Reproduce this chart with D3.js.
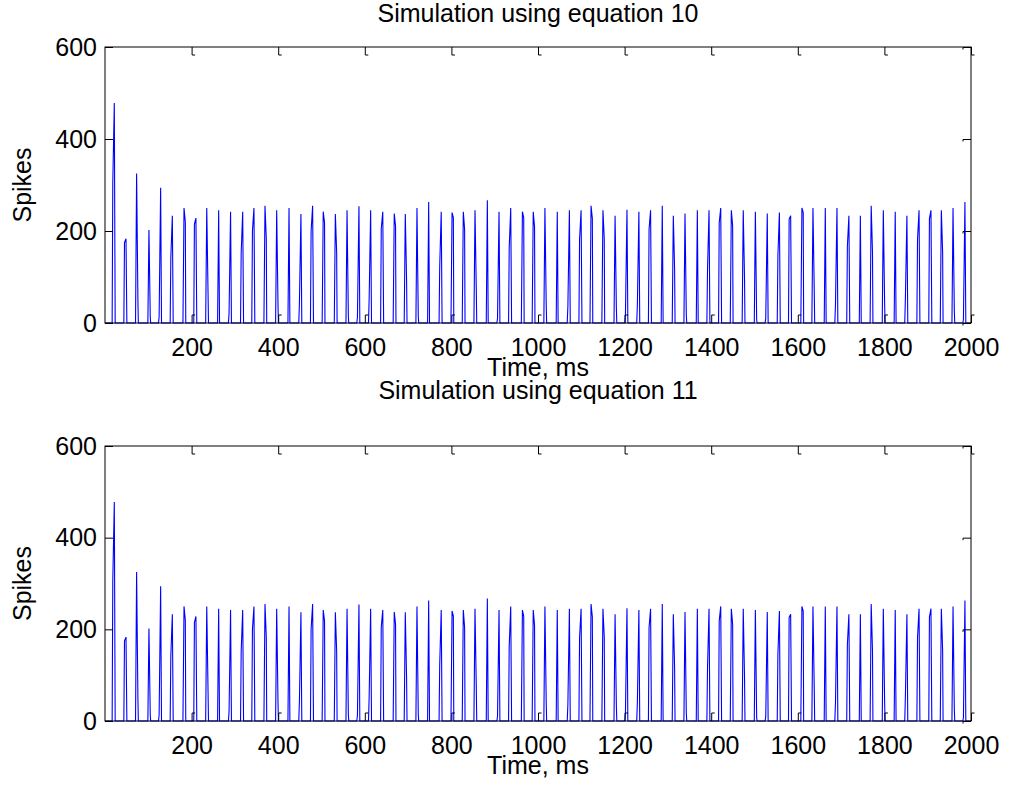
<!DOCTYPE html>
<html>
<head>
<meta charset="utf-8">
<script src="https://cdn.jsdelivr.net/npm/d3@7"></script>
<style>
  body { margin: 0; background: #fff; }
  svg text { font-family: "Liberation Sans", Arial, sans-serif; fill: #000; }
</style>
</head>
<body>
<div id="chart"></div>
<script>
// Spike train (both panels show the same trace)
var spike_times = [21.5, 48.5, 73, 101.5, 128.5, 155.5, 182.5, 210, 235, 262.5, 290, 318, 344, 369.5, 396.5,
    425, 452.5, 479.5, 504, 532, 559, 586.5, 613.5, 641.5, 668, 693.5, 720.5, 747.5, 776.5, 801.5, 827.5, 854.5, 883, 910, 937, 964,
    989, 1016, 1044.5, 1072.5, 1099.5, 1122.5, 1150, 1178, 1205.5, 1233, 1260, 1287, 1312.5, 1339.5, 1368, 1395, 1422, 1446.5, 1474, 1502, 1529.5, 1557.5,
    1583.5, 1609.5, 1635, 1663.5, 1690.5, 1718, 1744.5, 1769.5, 1797.5, 1825, 1852, 1880, 1907.5, 1931.5, 1958.5, 1986];

var spike_peaks = [478, 183, 325, 202, 294, 233, 250, 228, 250, 245, 242, 242, 250, 255, 245,
    250, 237, 255, 242, 237, 245, 254, 245, 242, 238, 237, 250, 263, 242, 240, 242, 245, 267, 242, 250, 242,
    242, 250, 242, 245, 245, 255, 245, 233, 246, 242, 245, 255, 233, 238, 245, 245, 250, 245, 245, 242, 238, 240,
    233, 250, 250, 250, 250, 233, 233, 255, 245, 242, 233, 245, 245, 245, 250, 263];

// value where the rising edge bends (0 = straight)
var rise_knees = [306, 175, 0, 0, 13, 141, 0, 215, 0, 0, 20, 152, 200, 0, 0,
    0, 43, 200, 0, 0, 0, 12, 50, 205, 0, 0, 0, 0, 123, 0, 0, 0, 0, 10, 163, 0,
    0, 0, 0, 36, 182, 0, 0, 0, 21, 39, 204, 0, 0, 0, 0, 116, 218, 0, 0, 0, 10, 145,
    226, 0, 0, 0, 39, 167, 0, 0, 0, 0, 54, 182, 227, 0, 0, 7];

// value where the falling edge bends (0 = straight)
var fall_knees = [0, 0, 50, 13, 0, 0, 220, 0, 64, 0, 0, 0, 0, 182, 42,
    0, 0, 0, 218, 153, 14, 0, 0, 0, 211, 94, 14, 0, 0, 229, 204, 72, 0, 0, 0, 229,
    209, 39, 0, 0, 0, 227, 183, 32, 0, 0, 0, 0, 116, 18, 0, 0, 0, 211, 94, 7, 0, 0,
    0, 240, 69, 0, 0, 0, 0, 153, 43, 0, 0, 0, 0, 153, 25, 0];

var titles  = [ 'Simulation using equation 10', 'Simulation using equation 11' ];
var x_ticks = [ 200, 400, 600, 800, 1000, 1200, 1400, 1600, 1800, 2000 ];
var y_ticks = [ 0, 200, 400, 600 ];

// Build the line points from the spikes
var trace = [ [0, 0] ];
spike_times.forEach(function(t, i){
    if (rise_knees[i] > 0) {
        trace.push([t - 5, 0]);
        trace.push([t - 3.5, rise_knees[i]]);
    } else {
        trace.push([t - 2.5, 0]);
    }
    trace.push([t, spike_peaks[i]]);
    if (fall_knees[i] > 0) {
        trace.push([t + 3, fall_knees[i]]);
        trace.push([t + 4, 0]);
    } else {
        trace.push([t + 2, 0]);
    }
});
trace.push([2000, 0]);

var chart_width  = 1015;
var chart_height = 794;
var font_size    = 25;

var svg = d3.select('#chart')
    .append('svg')
    .attr('width', chart_width)
    .attr('height', chart_height);

var panels = [
    { top: 47,  bottom: 323, title_y: 22 },
    { top: 446, bottom: 721, title_y: 399 }
];

var left  = 105;
var right = 971;

var scale_x = d3.scaleLinear()
    .domain([0, 2000])
    .range([left, right]);

panels.forEach(function(p, k){
    var scale_y = d3.scaleLinear()
        .domain([0, 600])
        .range([p.bottom, p.top]);

    var g = svg.append('g');

    // trace
    var line = d3.line()
        .x(function(d){ return scale_x(d[0]); })
        .y(function(d){ return scale_y(d[1]); });

    g.append('path')
        .datum(trace)
        .attr('d', line)
        .attr('fill', 'none')
        .attr('stroke', '#0000ff')
        .attr('stroke-width', 1.1);

    // box
    g.append('rect')
        .attr('x', left)
        .attr('y', p.top)
        .attr('width', right - left)
        .attr('height', p.bottom - p.top)
        .attr('fill', 'none')
        .attr('stroke', '#000')
        .attr('stroke-width', 1);

    // axes, ticks pointing inward
    var axis_bottom = d3.axisBottom(scale_x).tickValues(x_ticks).tickSize(-8).tickSizeOuter(0).tickPadding(15).tickFormat(d3.format('d'));
    var axis_top    = d3.axisTop(scale_x).tickValues(x_ticks).tickSize(-8).tickSizeOuter(0).tickFormat('');
    var axis_left   = d3.axisLeft(scale_y).tickValues(y_ticks).tickSize(-8).tickSizeOuter(0).tickPadding(8).tickFormat(d3.format('d'));
    var axis_right  = d3.axisRight(scale_y).tickValues(y_ticks).tickSize(-8).tickSizeOuter(0).tickFormat('');

    var gb = g.append('g').attr('transform', 'translate(0,' + p.bottom + ')').call(axis_bottom);
    var gt = g.append('g').attr('transform', 'translate(0,' + p.top + ')').call(axis_top);
    var gl = g.append('g').attr('transform', 'translate(' + left + ',0)').call(axis_left);
    var gr = g.append('g').attr('transform', 'translate(' + right + ',0)').call(axis_right);

    [gb, gt, gl, gr].forEach(function(a){
        a.select('.domain').remove();
        a.selectAll('.tick line').attr('stroke', '#000');
        a.selectAll('.tick text')
            .style('font-size', font_size + 'px')
            .style('font-family', '"Liberation Sans", Arial, sans-serif');
    });

    // the little hooks at the tick ends
    gb.selectAll('.tick').append('line')
        .attr('x1', 0).attr('x2', 3).attr('y1', -8).attr('y2', -8).attr('stroke', '#000');
    gt.selectAll('.tick').append('line')
        .attr('x1', 0).attr('x2', 3).attr('y1', 8).attr('y2', 8).attr('stroke', '#000');
    gr.selectAll('.tick').append('line')
        .attr('x1', -8).attr('x2', -8).attr('y1', 0).attr('y2', 2).attr('stroke', '#000');

    // title and labels
    svg.append('text')
        .attr('x', (left + right) / 2)
        .attr('y', p.title_y)
        .attr('text-anchor', 'middle')
        .style('font-size', font_size + 'px')
        .text(titles[k]);

    svg.append('text')
        .attr('x', (left + right) / 2)
        .attr('y', p.bottom + 53)
        .attr('text-anchor', 'middle')
        .style('font-size', font_size + 'px')
        .text('Time, ms');

    svg.append('text')
        .attr('transform', 'translate(31,' + (p.top + p.bottom) / 2 + ') rotate(-90)')
        .attr('text-anchor', 'middle')
        .style('font-size', font_size + 'px')
        .text('Spikes');
});
</script>
</body>
</html>
